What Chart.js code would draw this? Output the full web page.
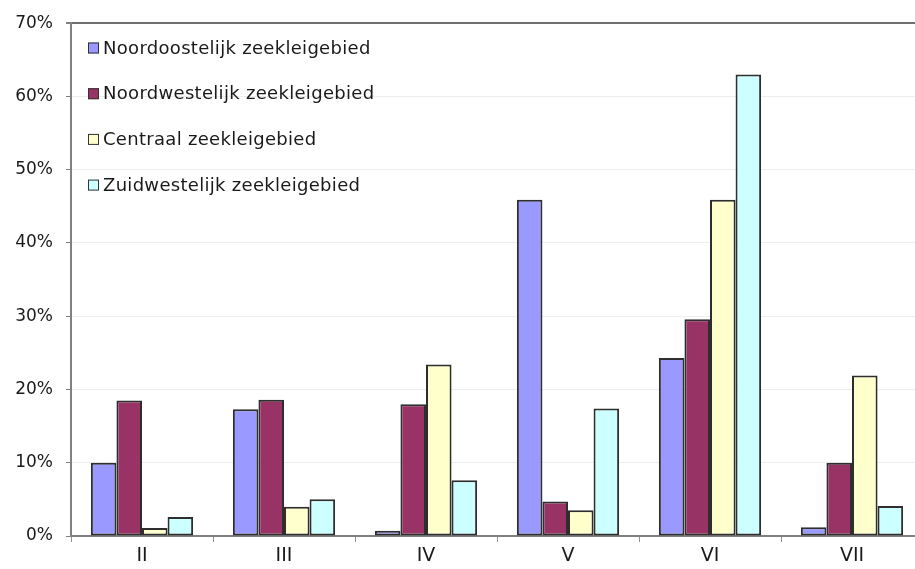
<!DOCTYPE html>
<html>
<head>
<meta charset="utf-8">
<script src="https://cdn.jsdelivr.net/npm/chart.js@4"></script>
<style>
  html, body { margin: 0; padding: 0; background: #fff; overflow: hidden; }
  #wrap { width: 924px; height: 569px; position: relative; }
</style>
</head>
<body>
<div id="wrap"><canvas id="c"></canvas></div>
<script>
// Soil-class categories on the x-axis
const categories = ['II', 'III', 'IV', 'V', 'VI', 'VII'];

// Share per region (percent)
const noordoostelijk = [10.0, 17.3, 0.7, 45.9, 24.3, 1.2];
const noordwestelijk = [18.5, 18.6, 18.0, 4.7, 29.6, 10.0];
const centraal       = [1.1, 4.0, 23.4, 3.5, 45.9, 21.9];
const zuidwestelijk  = [2.6, 5.0, 7.6, 17.4, 63.0, 4.1];

const seriesNames = [
  'Noordoostelijk zeekleigebied',
  'Noordwestelijk zeekleigebied',
  'Centraal zeekleigebied',
  'Zuidwestelijk zeekleigebied'
];
const seriesColors = ['#9999ff', '#993366', '#ffffcc', '#ccffff'];

const yTicks = [0, 10, 20, 30, 40, 50, 60, 70];

const FONT = '"DejaVu Sans", Verdana, sans-serif';

// Legend drawn as a list in the upper-left of the plot area
const insideLegend = {
  id: 'insideLegend',
  afterDraw(chart) {
    const ctx = chart.ctx;
    const x0 = 88, y0 = 48, step = 45.7, box = 11;
    ctx.save();
    ctx.font = '18px ' + FONT;
    ctx.letterSpacing = '0.3px';
    ctx.textBaseline = 'middle';
    ctx.textAlign = 'left';
    chart.data.datasets.forEach((ds, i) => {
      const y = y0 + i * step;
      ctx.fillStyle = ds.backgroundColor;
      ctx.fillRect(x0, y - box / 2, box, box);
      ctx.strokeStyle = '#333';
      ctx.lineWidth = 1;
      ctx.strokeRect(x0 + 0.5, y - box / 2 + 0.5, box - 1, box - 1);
      ctx.fillStyle = '#1a1a1a';
      ctx.fillText(ds.label, x0 + 15, y + 1);
    });
    ctx.restore();
  }
};

const datasets = [noordoostelijk, noordwestelijk, centraal, zuidwestelijk].map((vals, i) => ({
  label: seriesNames[i],
  data: vals,
  backgroundColor: seriesColors[i],
  borderColor: '#2e2e2e',
  borderWidth: 2,
  borderSkipped: false,
  categoryPercentage: 0.72,
  barPercentage: 1.0
}));

new Chart(document.getElementById('c'), {
  type: 'bar',
  data: { labels: categories, datasets },
  options: {
    responsive: true,
    maintainAspectRatio: false,
    animation: false,
    layout: { padding: { top: 20, right: 1, left: 0, bottom: 0 } },
    plugins: {
      legend: { display: false },
      tooltip: { enabled: false }
    },
    scales: {
      x: {
        offset: true,
        grid: {
          offset: true,
          drawOnChartArea: false,
          drawTicks: true,
          tickLength: 6,
          tickColor: '#909090',
          tickWidth: 1
        },
        border: { color: '#808080', width: 2 },
        ticks: {
          color: '#1a1a1a',
          font: { family: FONT, size: 19 },
          padding: 3,
          maxRotation: 0
        },
        afterFit(scale) { scale.height = 33; }
      },
      y: {
        min: 0,
        max: 70,
        afterBuildTicks(scale) { scale.ticks = yTicks.map(v => ({ value: v })); },
        grid: {
          color: ctx => (ctx.tick && ctx.tick.value === 70) ? '#707070' : '#eeeeee',
          lineWidth: ctx => (ctx.tick && ctx.tick.value === 70) ? 2 : 1,
          tickColor: '#808080',
          tickLength: 5,
          drawTicks: true
        },
        border: { color: '#808080', width: 2 },
        ticks: {
          color: '#1a1a1a',
          font: { family: FONT, size: 17 },
          padding: 13,
          callback: v => v + '%'
        },
        afterFit(scale) { scale.width = 71; }
      }
    }
  },
  plugins: [insideLegend]
});
</script>
</body>
</html>
